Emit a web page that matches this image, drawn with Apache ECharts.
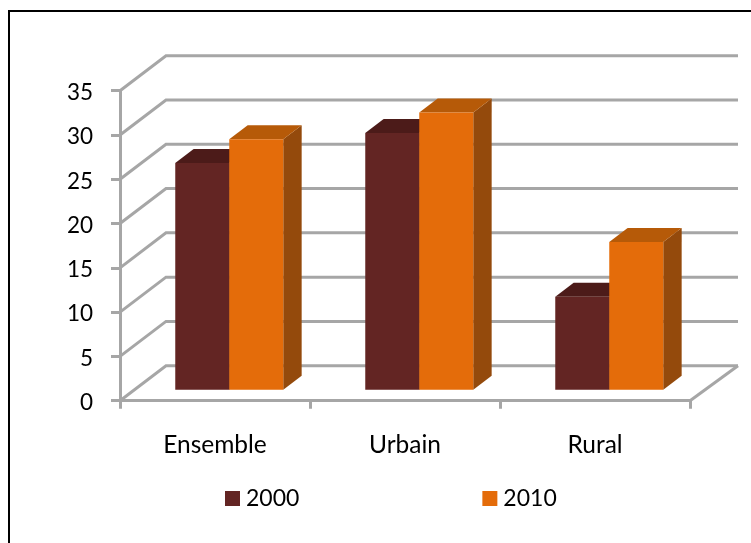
<!DOCTYPE html>
<html><head><meta charset="utf-8">
<style>html,body{margin:0;padding:0;background:#fff}#c{width:751px;height:543px}</style>
<script src="https://cdn.jsdelivr.net/npm/echarts@6/dist/echarts.min.js"></script>
</head><body><div id="c"></div>
<script>
var categories = ['Ensemble', 'Urbain', 'Rural'];
var values2000 = [25.6, 29, 10.5];
var values2010 = [28.3, 31.3, 16.7];
var tickValues = [0, 5, 10, 15, 20, 25, 30, 35];
var seriesNames = ['2000', '2010'];

var DEPTH_X = 46, DEPTH_Y = 35, RIGHT_EXTRA = 2, BAR_START = 0.31, BAR_DEPTH = 0.4, BAR_W = 54;
var GRID_COLOR = '#a6a6a6', GRID_W = 3;
var palette = [
  {front: '#632523', top: '#4c1b19', side: '#3f1614'},
  {front: '#e46c0a', top: '#b65a08', side: '#944a0c'}
];

function wallItem(params, api) {
  var r = params.coordSys;
  var y = api.coord([0, api.value(1)])[1];
  var left = r.x, right = r.x + r.width;
  var children = [{
    type: 'polyline',
    shape: {points: [[left, y], [left + DEPTH_X, y - DEPTH_Y], [right + DEPTH_X + RIGHT_EXTRA, y - DEPTH_Y]]},
    style: {stroke: GRID_COLOR, fill: null, lineWidth: GRID_W}
  }];
  if (api.value(1) === 0) {
    children.push({
      type: 'line',
      shape: {x1: right, y1: y, x2: right + DEPTH_X + RIGHT_EXTRA, y2: y - DEPTH_Y},
      style: {stroke: GRID_COLOR, lineWidth: GRID_W}
    });
  }
  return {type: 'group', children: children};
}

function barRenderer(idx) {
  return function (params, api) {
    var c = palette[idx];
    var base = api.coord([api.value(0), 0]);
    var topY = api.coord([api.value(0), api.value(1)])[1];
    var sx = DEPTH_X * BAR_START, sy = DEPTH_Y * BAR_START;
    var dx = DEPTH_X * BAR_DEPTH, dy = DEPTH_Y * BAR_DEPTH;
    var x0 = base[0] + sx + (idx === 0 ? -BAR_W : 0);
    var x1 = x0 + BAR_W;
    var yb = base[1] - sy, yt = topY - sy;
    return {type: 'group', children: [
      {type: 'polygon', shape: {points: [[x1, yb], [x1 + dx, yb - dy], [x1 + dx, yt - dy], [x1, yt]]}, style: {fill: c.side}},
      {type: 'polygon', shape: {points: [[x0, yt], [x0 + dx, yt - dy], [x1 + dx, yt - dy], [x1, yt]]}, style: {fill: c.top}},
      {type: 'rect', shape: {x: x0, y: yt, width: BAR_W, height: yb - yt}, style: {fill: c.front}}
    ]};
  };
}

function pairs(arr) { return arr.map(function (v, i) { return [i, v]; }); }

var chart = echarts.init(document.getElementById('c'), null, {renderer: 'canvas'});
var font = 'Lato';
chart.setOption({
  animation: false,
  backgroundColor: '#fff',
  graphic: [
    {type: 'line', silent: true, shape: {x1: 9, y1: 11, x2: 751, y2: 11}, style: {stroke: '#000', lineWidth: 2}},
    {type: 'line', silent: true, shape: {x1: 9, y1: 10, x2: 9, y2: 543}, style: {stroke: '#000', lineWidth: 2}}
  ],
  grid: {left: 120, top: 90.7, width: 570, height: 310, containLabel: false},
  legend: {
    data: seriesNames, left: 220, top: 482, itemWidth: 15, itemHeight: 15, itemGap: 183,
    icon: 'rect',
    textStyle: {fontFamily: font, fontSize: 23, color: '#000', padding: [0, 0, 0, 1]}
  },
  xAxis: {
    type: 'category', data: categories, boundaryGap: true,
    axisLine: {show: true, lineStyle: {color: GRID_COLOR, width: GRID_W}},
    axisTick: {show: true, length: 8, alignWithLabel: false, lineStyle: {color: GRID_COLOR, width: GRID_W}},
    axisLabel: {fontFamily: font, fontSize: 24.5, color: '#000', margin: 32, interval: 0},
    splitLine: {show: false}
  },
  yAxis: {
    type: 'value', min: 0, max: 35, interval: 5,
    axisLine: {show: true, lineStyle: {color: GRID_COLOR, width: GRID_W}},
    axisTick: {show: true, length: 9, lineStyle: {color: GRID_COLOR, width: GRID_W}},
    axisLabel: {
      margin: 27, formatter: '{a|{value}}',
      rich: {a: {fontFamily: font, fontSize: 22.5, color: '#000', padding: [4, 0, 0, 0]}}
    },
    splitLine: {show: false}
  },
  series: [
    {type: 'custom', name: 'walls', silent: true, z: 1, renderItem: wallItem, data: tickValues.map(function (v) { return [0, v]; }), encode: {x: 0, y: 1}},
    {type: 'custom', name: seriesNames[0], z: 2, itemStyle: {color: palette[0].front}, renderItem: barRenderer(0), data: pairs(values2000), encode: {x: 0, y: 1}},
    {type: 'custom', name: seriesNames[1], z: 3, itemStyle: {color: palette[1].front}, renderItem: barRenderer(1), data: pairs(values2010), encode: {x: 0, y: 1}}
  ]
});
</script></body></html>
